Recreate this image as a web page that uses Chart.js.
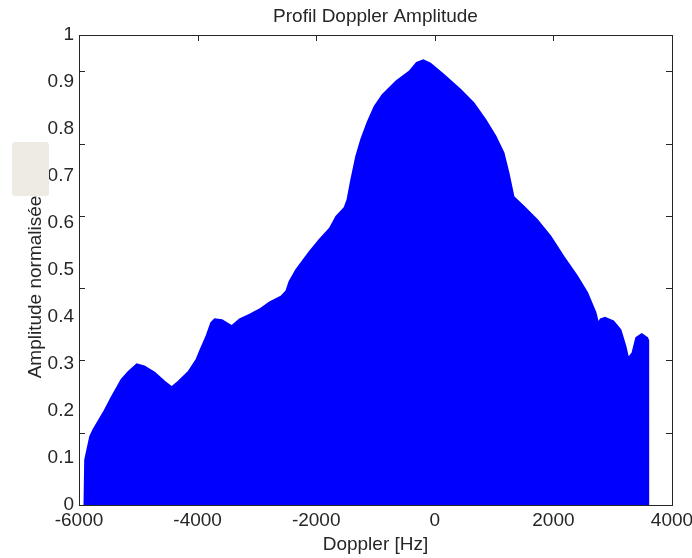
<!doctype html>
<html>

<head>
    <title>Profil Doppler Amplitude</title>
    <script src="https://cdn.jsdelivr.net/npm/chart.js"></script>
    <style>
        body {
            margin: 0;
            background: #ffffff;
        }

        .cadre {
            position: relative;
            width: 692px;
            height: 558px;
        }

        .cache {
            position: absolute;
            left: 12px;
            top: 142px;
            width: 37px;
            height: 54px;
            background: #eeebe3;
            border-radius: 3px;
        }
    </style>
</head>

<body>
    <div class="cadre">
        <canvas id="profilDoppler" width="692" height="558"></canvas>
        <div class="cache"></div>
    </div>

    <script>
        // enveloppe du profil (Hz / amplitude normalisée)
        var dopplerHz = [-5899, -5887, -5803, -5747, -5578, -5444, -5275, -5157, -5022, -4904,
            -4735, -4567, -4437, -4314, -4145, -4010, -3948, -3847, -3762, -3707,
            -3594, -3425, -3285, -3116, -2948, -2779, -2582, -2498, -2442, -2329,
            -2105, -1936, -1767, -1654, -1514, -1464, -1401, -1317, -1233, -1127,
            -1009, -874, -643, -418, -300, -194, -81, 138, 425, 644,
            846, 1015, 1150, 1234, 1319, 1487, 1718, 1942, 2162, 2393,
            2561, 2701, 2752, 2803, 2870, 3005, 3123, 3207, 3258, 3342,
            3405, 3489, 3573, 3587, 3589, 3591]
        var amplitude = [0, 0.096, 0.145, 0.160, 0.196, 0.228, 0.266, 0.283, 0.298, 0.294,
            0.281, 0.262, 0.249, 0.262, 0.283, 0.309, 0.328, 0.357, 0.387, 0.394,
            0.392, 0.379, 0.394, 0.404, 0.415, 0.430, 0.443, 0.454, 0.475, 0.500,
            0.538, 0.564, 0.587, 0.613, 0.632, 0.649, 0.691, 0.741, 0.777, 0.813,
            0.847, 0.872, 0.901, 0.922, 0.940, 0.945, 0.938, 0.915, 0.883, 0.855,
            0.819, 0.784, 0.749, 0.706, 0.655, 0.635, 0.606, 0.571, 0.528, 0.486,
            0.451, 0.409, 0.383, 0.394, 0.397, 0.390, 0.372, 0.337, 0.309, 0.323,
            0.355, 0.362, 0.355, 0.351, 0.123, 0]

        var xTickValues = [-6000, -4000, -2000, 0, 2000, 4000]
        var yTickValues = [0, 0.1, 0.2, 0.3, 0.4, 0.5, 0.6, 0.7, 0.8, 0.9, 1]
        // petits traits vers l'intérieur sur les bords gauche/droit
        var yTickMarks = [0.154, 0.308, 0.462, 0.615, 0.769, 0.923]

        var couleurTexte = '#262626'
        var police = "'Liberation Sans', Arial, sans-serif"

        var points = dopplerHz.map((hz, i) => ({ x: hz, y: amplitude[i] }))

        var cadreAxes = {
            id: 'cadreAxes',
            beforeDatasetsDraw(chart) {
                var ctx = chart.ctx
                var a = chart.chartArea
                var x = chart.scales.x
                var y = chart.scales.y
                ctx.save()
                ctx.strokeStyle = couleurTexte
                ctx.lineWidth = 1
                ctx.beginPath()
                xTickValues.forEach(v => {
                    var px = Math.round(x.getPixelForValue(v)) + 0.5
                    ctx.moveTo(px, a.top)
                    ctx.lineTo(px, a.top + 6)
                    ctx.moveTo(px, a.bottom)
                    ctx.lineTo(px, a.bottom - 6)
                })
                yTickMarks.forEach(v => {
                    var py = Math.round(y.getPixelForValue(v)) + 0.5
                    ctx.moveTo(a.left, py)
                    ctx.lineTo(a.left + 6, py)
                    ctx.moveTo(a.right, py)
                    ctx.lineTo(a.right - 6, py)
                })
                ctx.stroke()
                ctx.restore()
            },
            afterDatasetsDraw(chart) {
                var ctx = chart.ctx
                var a = chart.chartArea
                ctx.save()
                ctx.strokeStyle = couleurTexte
                ctx.lineWidth = 1
                ctx.strokeRect(Math.round(a.left) + 0.5, Math.round(a.top) + 0.5,
                    Math.round(a.right - a.left), Math.round(a.bottom - a.top))
                ctx.restore()
            },
            afterDraw(chart) {
                var ctx = chart.ctx
                var a = chart.chartArea
                ctx.save()
                ctx.font = '19px ' + police
                ctx.fillStyle = couleurTexte
                ctx.textAlign = 'center'
                ctx.textBaseline = 'middle'
                // titre centré sur la zone du tracé
                ctx.fillText('Profil Doppler Amplitude', (a.left + a.right) / 2, 17)
                // titre de l'axe y, un peu sous le milieu de l'axe
                ctx.translate(35.5, (a.top + a.bottom) / 2 + 17)
                ctx.rotate(-Math.PI / 2)
                ctx.fillText('Amplitude normalisée', 0, 0)
                ctx.restore()
            }
        }

        var profilDoppler = new Chart(document.getElementById('profilDoppler').getContext('2d'), {
            type: 'line',
            data: {
                datasets: [{
                    data: points,
                    borderColor: '#0000ff',
                    backgroundColor: '#0000ff',
                    borderWidth: 3,
                    pointRadius: 0,
                    tension: 0,
                    fill: 'origin',
                    clip: 5
                }]
            },
            options: {
                responsive: false,
                animation: false,
                events: [],
                layout: {
                    padding: { left: 0, right: 20, top: 35, bottom: 0 }
                },
                plugins: {
                    legend: { display: false },
                    tooltip: { enabled: false },
                    title: { display: false }
                },
                scales: {
                    x: {
                        type: 'linear',
                        min: -6000,
                        max: 4000,
                        afterBuildTicks: s => { s.ticks = xTickValues.map(v => ({ value: v })) },
                        afterFit: s => {
                            s.height = 53
                            s.paddingLeft = 0
                            s.paddingRight = 0
                        },
                        ticks: {
                            color: couleurTexte,
                            font: { size: 19, family: police },
                            padding: 4,
                            maxRotation: 0,
                            callback: v => String(v)
                        },
                        grid: { display: false, drawTicks: false },
                        border: { display: false },
                        title: {
                            display: true,
                            text: 'Doppler [Hz]',
                            color: couleurTexte,
                            font: { size: 19, family: police },
                            padding: { top: 0, bottom: 2 }
                        }
                    },
                    y: {
                        min: 0,
                        max: 1,
                        afterBuildTicks: s => { s.ticks = yTickValues.map(v => ({ value: v })) },
                        afterFit: s => { s.width = 79 },
                        ticks: {
                            color: couleurTexte,
                            font: { size: 19, family: police },
                            padding: 5,
                            callback: v => String(v)
                        },
                        grid: { display: false, drawTicks: false },
                        border: { display: false }
                    }
                }
            },
            plugins: [cadreAxes]
        });
    </script>
</body>

</html>
